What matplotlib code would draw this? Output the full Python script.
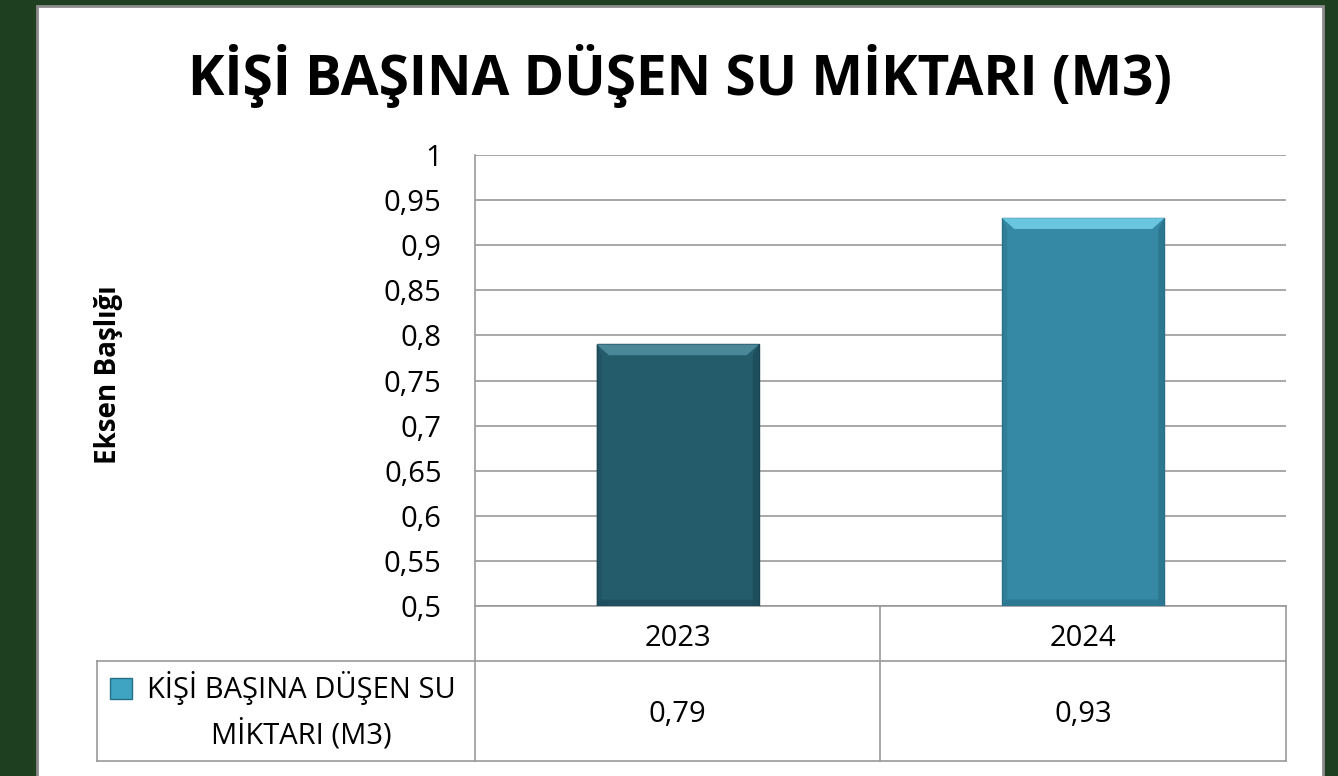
import numpy as np
import matplotlib.pyplot as plt
from matplotlib.patches import Rectangle, Polygon
from matplotlib.lines import Line2D

plt.rcParams['font.family'] = ['Open Sans', 'DejaVu Sans']

# data
years = ['2023', '2024']
values = [0.79, 0.93]
series_lines = ['KİŞİ BAŞINA DÜŞEN SU', 'MİKTARI (M3)']
title = 'KİŞİ BAŞINA DÜŞEN SU MİKTARI (M3)'
ylabel = 'Eksen Başlığı'
yticks = [0.5, 0.55, 0.6, 0.65, 0.7, 0.75, 0.8, 0.85, 0.9, 0.95, 1.0]

bar_colors = ['#245c6c', '#3589a4']
bevel_colors = ['#4a8799', '#6ac5df']
side_colors = ['#1e4d5c', '#2c7690']
edge_colors = ['#1a4452', '#276a80']

W, H = 1338, 776
fig = plt.figure(figsize=(W / 100, H / 100), dpi=100, facecolor='#1f4020')

def fx(px):
    return px / W

def fy(py):
    return 1 - py / H

# white chart panel (behind everything)
fig.patches.append(Rectangle((fx(37), fy(790)), fx(1323) - fx(37), fy(6) - fy(790),
                             transform=fig.transFigure, facecolor='white',
                             edgecolor='#8c8c8c', linewidth=2, zorder=-5))

x0, x1, ytop, ybot = 475, 1286, 155, 606
ax = fig.add_axes([fx(x0), fy(ybot), fx(x1) - fx(x0), fy(ytop) - fy(ybot)])
ax.set_facecolor('none')
ax.set_zorder(2)

x = np.arange(len(years))
bw = 0.4
bars = ax.bar(x, [v - 0.5 for v in values], bottom=0.5, width=bw,
              color=bar_colors, edgecolor=edge_colors, linewidth=1.0, zorder=3)

# bevel: light top strip, darker sides and bottom
bx, by = 0.03, 0.012
for b, c, sc in zip(bars, bevel_colors, side_colors):
    l, w, t = b.get_x(), b.get_width(), b.get_y() + b.get_height()
    y0 = b.get_y()
    ax.add_patch(Polygon([(l + w, t), (l + w - bx * 0.5, t - by), (l + w - bx * 0.5, y0), (l + w, y0)],
                         closed=True, facecolor=sc, edgecolor='none', zorder=4))
    ax.add_patch(Polygon([(l, t), (l + bx * 0.4, t - by), (l + bx * 0.4, y0), (l, y0)],
                         closed=True, facecolor=sc, edgecolor='none', alpha=0.6, zorder=4))
    ax.add_patch(Polygon([(l, y0), (l + w, y0), (l + w - bx * 0.5, y0 + by * 0.6), (l + bx * 0.4, y0 + by * 0.6)],
                         closed=True, facecolor=sc, edgecolor='none', alpha=0.8, zorder=4))
    ax.add_patch(Polygon([(l, t), (l + w, t), (l + w - bx, t - by), (l + bx, t - by)],
                         closed=True, facecolor=c, edgecolor='none', zorder=5))

ax.set_xlim(-0.5, len(years) - 0.5)
ax.set_ylim(0.5, 1.0)
ax.set_yticks(yticks)
ax.set_yticklabels([('%g' % t).replace('.', ',') for t in yticks], fontsize=21)
ax.set_xticks([])
ax.tick_params(axis='y', length=0, pad=24)
ax.yaxis.grid(True, color='#9a9a9a', linewidth=1.2)
ax.set_axisbelow(True)
for s in ['top', 'right', 'bottom']:
    ax.spines[s].set_visible(False)
ax.spines['left'].set_color('#9a9a9a')
ax.spines['left'].set_linewidth(1.2)

# title and axis title
fig.text(fx(680), fy(95), title, ha='center', va='baseline', fontsize=39.5,
         fontweight='bold', color='black')
fig.text(fx(109), fy(375), ylabel, ha='center', va='center', rotation=90,
         fontsize=20, fontweight='bold')

# data table under the axis
gc = '#9a9a9a'
cols = [x0, (x0 + x1) / 2, x1]
tb = 761
def hline(xa, xb, yy):
    fig.add_artist(Line2D([fx(xa), fx(xb)], [fy(yy), fy(yy)], color=gc, lw=1.2))
def vline(xx, ya, yb):
    fig.add_artist(Line2D([fx(xx), fx(xx)], [fy(ya), fy(yb)], color=gc, lw=1.2))

hline(x0, x1, 606)
hline(97, x1, 661)
hline(97, x1, tb)
vline(97, 661, tb)
for cx in cols:
    vline(cx, 606, tb)

for i, (yr, v) in enumerate(zip(years, values)):
    cx = (cols[i] + cols[i + 1]) / 2
    fig.text(fx(cx), fy(646), yr, ha='center', va='baseline', fontsize=21)
    fig.text(fx(cx), fy(722), ('%.2f' % v).replace('.', ','), ha='center',
             va='baseline', fontsize=21)

# legend key + series name
fig.patches.append(Rectangle((fx(110), fy(699)), fx(132) - fx(110), fy(678) - fy(699),
                             transform=fig.transFigure, facecolor='#3fa3c2',
                             edgecolor='#256f87', linewidth=1))
fig.text(fx(301), fy(698), series_lines[0], ha='center', va='baseline', fontsize=21)
fig.text(fx(301), fy(744), series_lines[1], ha='center', va='baseline', fontsize=21)

fig.savefig('out.png', dpi=100, facecolor=fig.get_facecolor())
